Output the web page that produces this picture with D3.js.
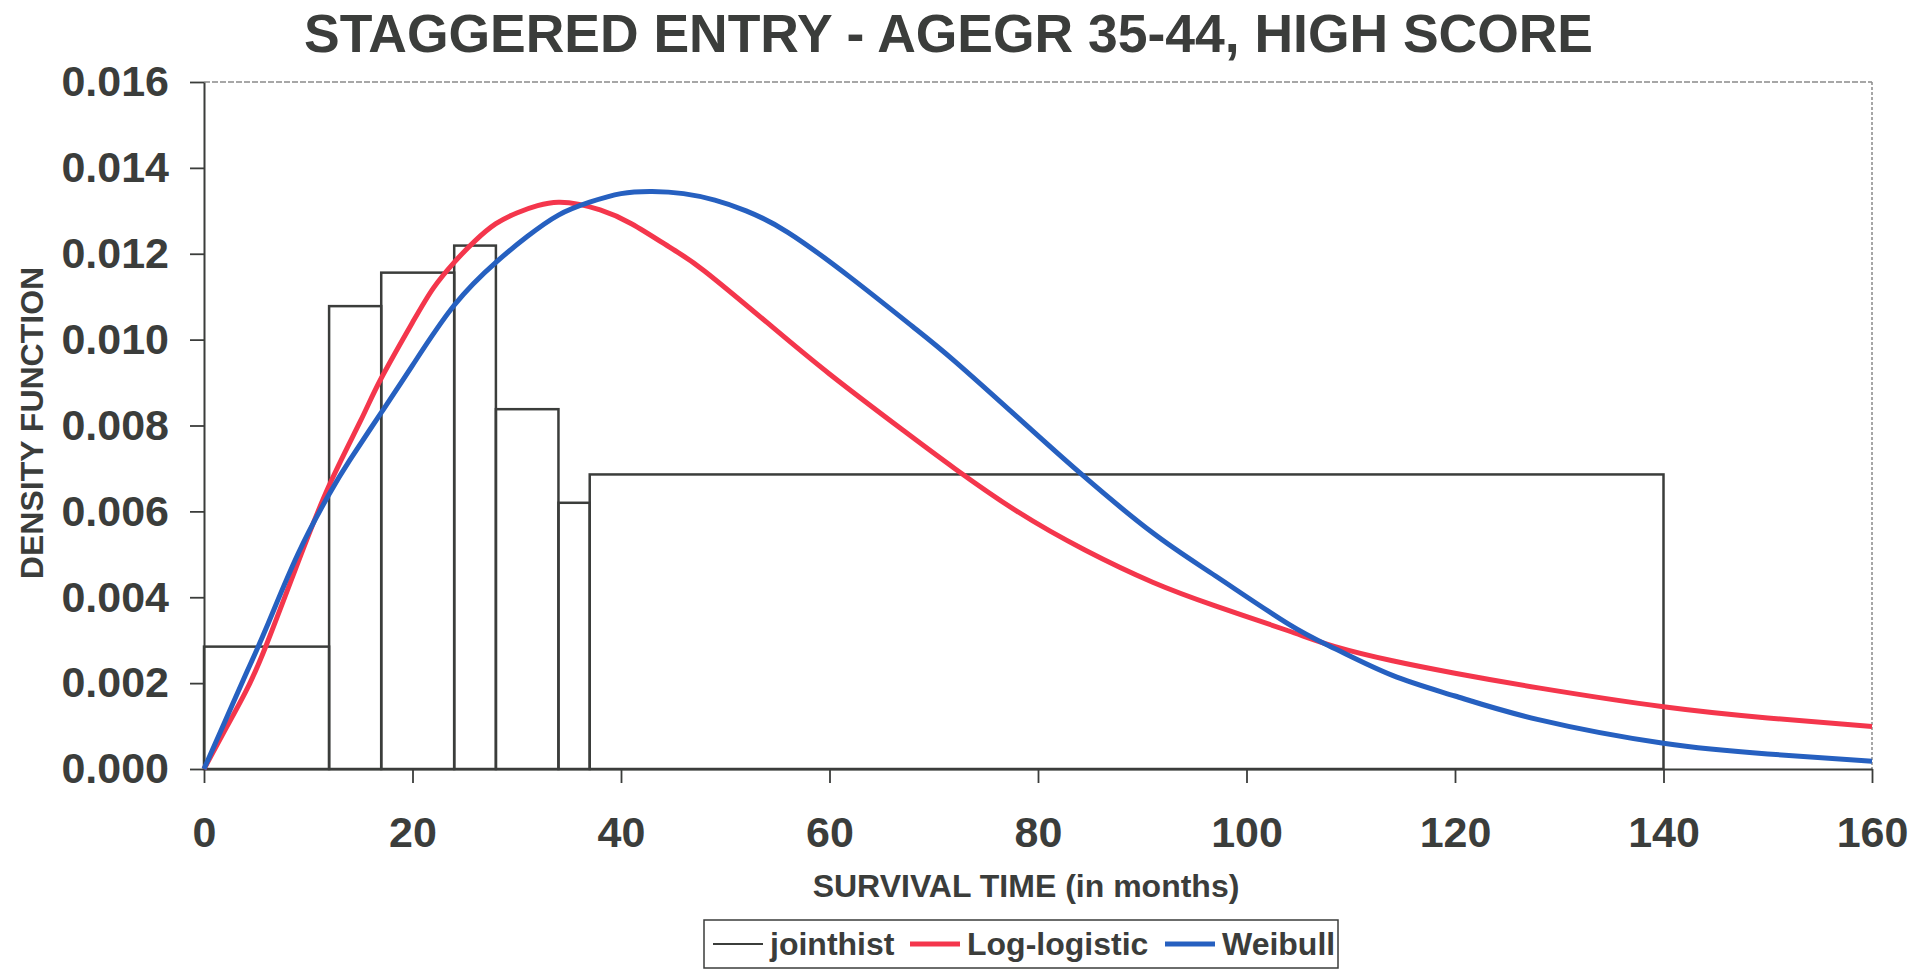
<!DOCTYPE html>
<html>
<head>
<meta charset="utf-8">
<script src="https://cdn.jsdelivr.net/npm/d3@7"></script>
<style>
  body { margin: 0; background: #fff; }
  text { font-family: "Liberation Sans", Arial, sans-serif; font-weight: bold; fill: #3b3d3b; }
</style>
</head>
<body>
<div id="chart"></div>
<script>
// histogram (jointhist): bin edges in months and bar heights
var binEdges = [0, 12, 17, 24, 28, 34, 37, 140];
var binHeights = [0.00285, 0.01078, 0.01156, 0.01219, 0.00838, 0.00620, 0.00686];

// Log-logistic fit
var llTime = [0, 2, 4, 6, 9, 12, 15, 17, 20, 22, 24, 26, 28, 30, 32, 34, 36, 38, 41, 45, 48, 54, 60, 67, 72, 78, 84.5, 91, 97, 104, 108.5, 114, 120, 128, 140, 150, 160];
var llDensity = [0, 0.0009, 0.0018, 0.0029, 0.0048, 0.0066, 0.0081, 0.0091, 0.0104, 0.0112, 0.0118, 0.0123, 0.0127, 0.01295, 0.01312, 0.0132, 0.01315, 0.01302, 0.0127, 0.0121, 0.0116, 0.0104, 0.0092, 0.0079, 0.0070, 0.0060, 0.0051, 0.00435, 0.0038, 0.00322, 0.00285, 0.00252, 0.00223, 0.00189, 0.00145, 0.00119, 0.00099];

// Weibull fit
var wbTime = [0, 2, 4, 6, 9, 12, 14, 17, 20, 24, 28, 31, 34, 37, 40, 43, 46, 49, 52, 56, 62, 68, 72, 78, 84, 91, 97, 104, 108.5, 114, 120, 128, 140, 150, 160];
var wbDensity = [0, 0.0011, 0.0022, 0.0033, 0.0050, 0.0064, 0.0072, 0.0083, 0.0094, 0.0108, 0.0118, 0.0124, 0.0129, 0.0132, 0.0134, 0.01345, 0.0134, 0.01325, 0.0130, 0.0125, 0.01145, 0.0103, 0.0095, 0.0082, 0.0069, 0.0055, 0.0045, 0.00338, 0.0028, 0.00218, 0.0017, 0.00115, 0.0006, 0.00035, 0.00018];

var xTicks = [0, 20, 40, 60, 80, 100, 120, 140, 160];
var yTicks = [0, 0.002, 0.004, 0.006, 0.008, 0.010, 0.012, 0.014, 0.016];
var legendLabels = ['jointhist', 'Log-logistic', 'Weibull'];

var ink = '#3b3d3b', red = '#f4364c', blue = '#2660c0';

var svg = d3.select('#chart').append('svg')
    .attr('width', 1925)
    .attr('height', 970);

var x = d3.scaleLinear().domain([0, 160]).range([204, 1872]);
var y = d3.scaleLinear().domain([0, 0.016]).range([769, 82]);

// title
svg.append('text')
    .attr('x', 304).attr('y', 52)
    .attr('textLength', 1289).attr('lengthAdjust', 'spacingAndGlyphs')
    .style('font-size', '54px')
    .text('STAGGERED ENTRY - AGEGR 35-44, HIGH SCORE');

// frame top/right (light, scanned look)
svg.append('line')
    .attr('x1', x(0)).attr('x2', x(160)).attr('y1', y(0.016)).attr('y2', y(0.016))
    .attr('stroke', '#8a8a8a').attr('stroke-width', 1.5).attr('stroke-dasharray', '6,2');
svg.append('line')
    .attr('x1', x(160)).attr('x2', x(160)).attr('y1', y(0.016)).attr('y2', y(0))
    .attr('stroke', '#8a8a8a').attr('stroke-width', 1.5).attr('stroke-dasharray', '3,2');

// histogram
svg.append('g').selectAll('rect')
    .data(binHeights)
    .enter()
    .append('rect')
    .attr('x', function(d, i) { return x(binEdges[i]); })
    .attr('y', function(d) { return y(d); })
    .attr('width', function(d, i) { return x(binEdges[i + 1]) - x(binEdges[i]); })
    .attr('height', function(d) { return y(0) - y(d); })
    .attr('fill', 'none')
    .attr('stroke', ink)
    .attr('stroke-width', 2.5);

// axes
var yAxis = svg.append('g')
    .attr('transform', 'translate(' + x(0) + ',0)')
    .call(d3.axisLeft(y).tickValues(yTicks).tickFormat(d3.format('.3f'))
        .tickSize(14).tickSizeOuter(0).tickPadding(21));
var xAxis = svg.append('g')
    .attr('transform', 'translate(0,' + y(0) + ')')
    .call(d3.axisBottom(x).tickValues(xTicks)
        .tickSize(14).tickSizeOuter(0).tickPadding(33));

[yAxis, xAxis].forEach(function(g) {
    g.select('.domain').attr('stroke', ink).attr('stroke-width', 2);
    g.selectAll('.tick line').attr('stroke', ink).attr('stroke-width', 1.8);
    g.selectAll('.tick text')
        .attr('fill', ink)
        .style('font-size', '43px')
        .style('font-family', '"Liberation Sans", Arial, sans-serif')
        .style('font-weight', 'bold');
});

// fitted curves
var curve = function(xs, ys) {
    return d3.line()
        .x(function(d, i) { return x(xs[i]); })
        .y(function(d) { return y(d); })
        .curve(d3.curveNatural)(ys);
};
svg.append('path')
    .attr('d', curve(llTime, llDensity))
    .attr('fill', 'none').attr('stroke', red).attr('stroke-width', 5);
svg.append('path')
    .attr('d', curve(wbTime, wbDensity))
    .attr('fill', 'none').attr('stroke', blue).attr('stroke-width', 5);

// axis titles
svg.append('text')
    .attr('x', 1026).attr('y', 897)
    .attr('text-anchor', 'middle')
    .style('font-size', '32px')
    .text('SURVIVAL TIME (in months)');
svg.append('text')
    .attr('transform', 'translate(43,423) rotate(-90)')
    .attr('text-anchor', 'middle')
    .style('font-size', '32px')
    .text('DENSITY FUNCTION');

// legend
var legend = svg.append('g');
legend.append('rect')
    .attr('x', 704).attr('y', 920).attr('width', 634).attr('height', 48)
    .attr('fill', '#fff').attr('stroke', ink).attr('stroke-width', 1.5);

var legendColors = [ink, red, blue];
var legendWidths = [2, 5, 5];
var legendLineX = [713, 910, 1165];
legend.selectAll('line.key')
    .data(legendLabels)
    .enter()
    .append('line')
    .attr('class', 'key')
    .attr('x1', function(d, i) { return legendLineX[i]; })
    .attr('x2', function(d, i) { return legendLineX[i] + 50; })
    .attr('y1', 944).attr('y2', 944)
    .attr('stroke', function(d, i) { return legendColors[i]; })
    .attr('stroke-width', function(d, i) { return legendWidths[i]; });
legend.selectAll('text')
    .data(legendLabels)
    .enter()
    .append('text')
    .attr('x', function(d, i) { return legendLineX[i] + 57; })
    .attr('y', 955)
    .style('font-size', '32px')
    .text(function(d) { return d; });
</script>
</body>
</html>
